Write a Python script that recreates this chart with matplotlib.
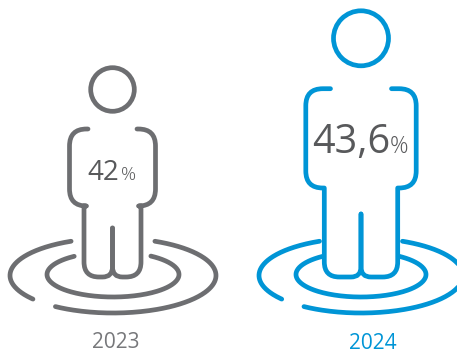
import numpy as np
import matplotlib.pyplot as plt
from matplotlib.patches import Circle, PathPatch
from matplotlib.path import Path

plt.rcParams["font.family"] = ["Open Sans", "DejaVu Sans"]

years = ["2023", "2024"]
shares = ["42", "43,6"]
colors = ["#6d6e71", "#0095d6"]
year_colors = ["#77787b", "#0095d6"]
text_color = "#58595b"

LW = 3.4


def rounded(points, radii):
    # polyline through points, each inner vertex gets a quadratic corner (0 = sharp)
    verts = [points[0]]
    codes = [Path.MOVETO]
    for i in range(1, len(points) - 1):
        p = np.array(points[i], float)
        r = radii[i - 1]
        if r == 0:
            verts.append(tuple(p))
            codes.append(Path.LINETO)
            continue
        a = np.array(points[i - 1], float)
        b = np.array(points[i + 1], float)
        p1 = p + (a - p) / np.linalg.norm(a - p) * r
        p2 = p + (b - p) / np.linalg.norm(b - p) * r
        verts += [tuple(p1), tuple(p), tuple(p2)]
        codes += [Path.LINETO, Path.CURVE3, Path.CURVE3]
    verts.append(points[-1])
    codes.append(Path.LINETO)
    return Path(verts, codes)


def person(ax, cx, head_y, head_r, half_w, top, arm_x, arm_y, leg, bottom, split_y, color):
    ax.add_patch(Circle((cx, head_y), head_r, fill=False, ec=color, lw=LW))
    outline = [
        (cx - arm_x, top), (cx - half_w, top), (cx - half_w, arm_y), (cx - leg, arm_y),
        (cx - leg, bottom), (cx, bottom), (cx, split_y),
    ]
    mirrored = [(2 * cx - x, y) for x, y in outline]
    for pts in (outline, mirrored):
        ax.add_patch(PathPatch(rounded(pts, [17, 17, 0, 15, 10]), fill=False, ec=color,
                               lw=LW, capstyle="round", joinstyle="round", zorder=2))


def ring(ax, cx, cy, rx, ry, start, end, color):
    t = np.radians(np.linspace(start, end, 200))
    ax.plot(cx + rx * np.cos(t), cy - ry * np.sin(t), color=color, lw=LW,
            solid_capstyle="round", zorder=1)


fig = plt.figure(figsize=(4.57, 3.51), dpi=100)
ax = fig.add_axes([0, 0, 1, 1])
ax.set_xlim(0, 457)
ax.set_ylim(351, 0)
ax.axis("off")

# 2023
c = colors[0]
person(ax, 112.5, 89.5, 21.8, 43, 129, 24.5, 206, 28.5, 277, 228, c)
ring(ax, 113, 275.5, 103, 37.5, 114, 219, c)
ring(ax, 113, 275.5, 103, 37.5, 236, 426, c)
ring(ax, 113, 274.5, 66, 22.5, 126, 415, c)

# 2024
c = colors[1]
person(ax, 361, 38.3, 27.5, 55.2, 88.7, 30.5, 188, 36.7, 277, 214, c)
ring(ax, 361, 275.5, 102, 37.5, 114, 219, c)
ring(ax, 361, 275.5, 102, 37.5, 236, 426, c)
ring(ax, 361, 274.5, 65, 22.5, 125, 415, c)

ax.text(87.5, 180, shares[0], fontsize=20, color=text_color, ha="left", va="baseline")
ax.text(120.5, 180, "%", fontsize=13.5, color=text_color, ha="left", va="baseline", weight="light")
ax.text(312, 153, shares[1], fontsize=28.5, color=text_color, ha="left", va="baseline")
ax.text(389.5, 153, "%", fontsize=16.5, color=text_color, ha="left", va="baseline", weight="light")

ax.text(115.7, 347.5, years[0], fontsize=15, color=year_colors[0], ha="center", va="baseline")
ax.text(373, 349, years[1], fontsize=15, color=year_colors[1], ha="center", va="baseline")

fig.savefig("out.png", dpi=100)
